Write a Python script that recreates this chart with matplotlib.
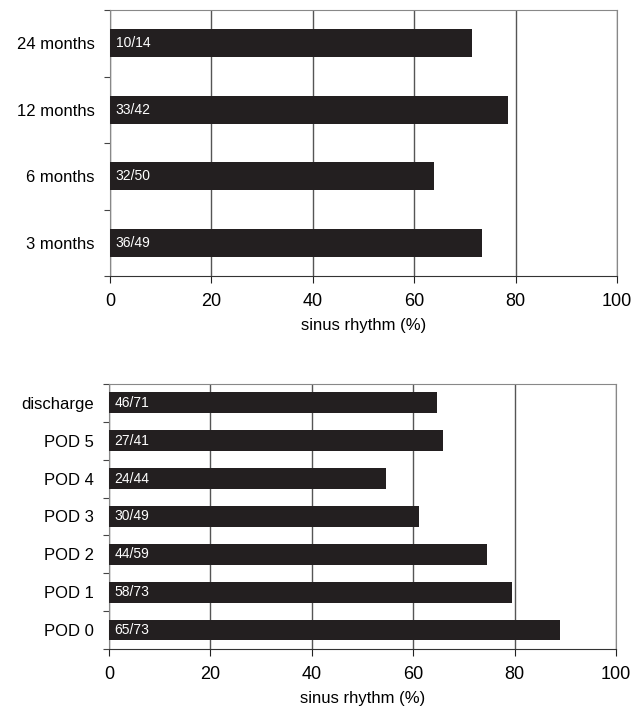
import numpy as np
import matplotlib.pyplot as plt
from matplotlib.ticker import FixedLocator

plt.rcParams['font.family'] = ['Liberation Sans', 'DejaVu Sans']

# Follow-up visits (top panel), bottom to top
late_labels = ["3 months", "6 months", "12 months", "24 months"]
late_n = [36, 32, 33, 10]
late_total = [49, 50, 42, 14]

# Post-operative days (bottom panel), bottom to top
early_labels = ["POD 0", "POD 1", "POD 2", "POD 3", "POD 4", "POD 5", "discharge"]
early_n = [65, 58, 44, 30, 24, 27, 46]
early_total = [73, 73, 59, 49, 44, 41, 71]

xticks = [0, 20, 40, 60, 80, 100]
bar_color = "#231f20"


def draw_panel(ax, labels, n, total, height):
    pct = 100 * np.array(n) / np.array(total)
    y = np.arange(len(labels))
    ax.set_axisbelow(True)
    ax.xaxis.grid(True, color="#555555", linewidth=1.0)
    ax.barh(y, pct, height=height, color=bar_color, zorder=3)
    for yi, a, b in zip(y, n, total):
        ax.annotate(f"{a}/{b}", (0, yi), xytext=(4, 0), textcoords="offset points",
                    color="white", fontsize=10, va="center", ha="left", zorder=4)
    ax.set_xlim(0, 100)
    ax.set_ylim(-0.5, len(labels) - 0.5)
    ax.set_xticks(xticks)
    ax.set_yticks(y)
    ax.set_yticklabels(labels, fontsize=12)
    ax.yaxis.set_minor_locator(FixedLocator(np.arange(len(labels) + 1) - 0.5))
    ax.tick_params(axis="y", which="major", length=0, pad=11)
    ax.tick_params(axis="y", which="minor", length=4, width=0.8, color="#444444",
                   direction="out")
    ax.tick_params(axis="x", length=5, width=0.8, color="#222222", direction="out",
                   labelsize=13, pad=7)
    for side in ["top", "right", "left"]:
        ax.spines[side].set_color("#888888")
        ax.spines[side].set_linewidth(0.8)
    ax.spines["bottom"].set_color("#333333")
    ax.spines["bottom"].set_linewidth(0.8)
    ax.set_xlabel("sinus rhythm (%)", fontsize=12, labelpad=6)


fig = plt.figure(figsize=(6.42, 7.19), dpi=100)
ax1 = fig.add_axes([0.1713, 0.6161, 0.7897, 0.370])
ax2 = fig.add_axes([0.1698, 0.0974, 0.7897, 0.3686])

draw_panel(ax1, late_labels, late_n, late_total, 0.42)
draw_panel(ax2, early_labels, early_n, early_total, 0.55)

fig.savefig("out.png", dpi=100)
